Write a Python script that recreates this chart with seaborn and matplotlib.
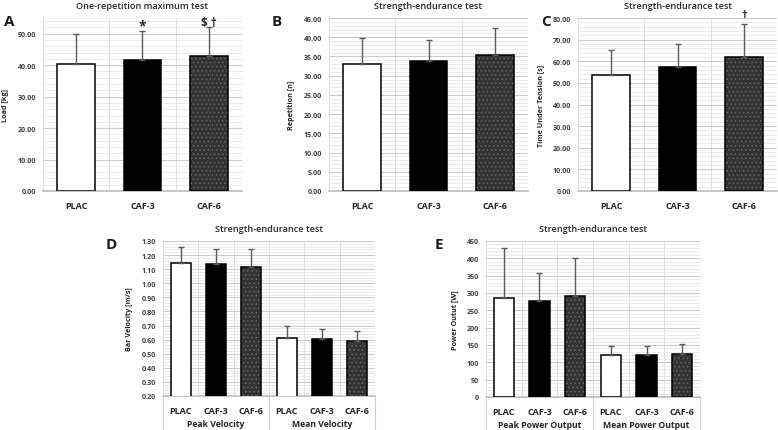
import numpy as np
import pandas as pd
import matplotlib.pyplot as plt
import seaborn as sns
import matplotlib.transforms as mtransforms
from matplotlib.patches import Rectangle
from matplotlib.ticker import MultipleLocator, FormatStrFormatter

# conditions and group labels
conditions = ['PLAC', 'CAF-3', 'CAF-6']
velocity_groups = ['Peak Velocity', 'Mean Velocity']
power_groups = ['Peak Power Output', 'Mean Power Output']

# A: one-repetition maximum (mean, SD)
rm_mean = [40.5, 41.8, 43.0]
rm_sd = [9.3, 9.0, 9.0]

# B: repetitions
rep_mean = [33.1, 33.9, 35.3]
rep_sd = [6.6, 5.4, 7.0]

# C: time under tension
tut_mean = [53.6, 57.2, 62.0]
tut_sd = [11.4, 10.8, 15.3]

# D: bar velocity
peak_vel_mean = [1.145, 1.137, 1.112]
peak_vel_sd = [0.110, 0.103, 0.133]
mean_vel_mean = [0.610, 0.602, 0.587]
mean_vel_sd = [0.085, 0.073, 0.073]

# E: power output
peak_pow_mean = [285, 278, 290]
peak_pow_sd = [145, 80, 111]
mean_pow_mean = [120, 122, 124]
mean_pow_sd = [26, 26, 29]

sns.set_theme(style='white')
plt.rcParams['font.family'] = ['Open Sans', 'DejaVu Sans']
plt.rcParams['font.weight'] = 'bold'
plt.rcParams['hatch.linewidth'] = 0.6

bar_colors = {'PLAC': 'white', 'CAF-3': 'black', 'CAF-6': '#333333'}
W, H = 778, 431
fig = plt.figure(figsize=(W / 100, H / 100), dpi=100)


def px_axes(l, t, r, b):
    return fig.add_axes([l / W, 1 - b / H, (r - l) / W, (b - t) / H])


def draw_panel(ax, labels, means, sds, ylim, major, minor, fmt, ylabel, title):
    df = pd.DataFrame({'key': [f'{i}' for i in range(len(labels))],
                       'cond': labels, 'mean': means, 'sd': sds})
    sns.barplot(data=df, x='key', y='mean', hue='key',
                palette=[bar_colors[c] for c in df['cond']],
                width=0.57, edgecolor='black', linewidth=1.1,
                legend=False, ax=ax, zorder=3)
    # dotted pattern for CAF-6
    for patch, cond in zip(ax.patches, df['cond']):
        if cond == 'CAF-6':
            patch.set_hatch('....')
            patch.set_edgecolor('#6a6a6a')
            patch.set_linewidth(0)
            ax.add_patch(Rectangle(patch.get_xy(), patch.get_width(), patch.get_height(),
                                   fill=False, edgecolor='black', lw=1.1, zorder=3.5))
    xs = np.arange(len(df))
    ax.errorbar(xs, df['mean'], yerr=[np.zeros(len(df)), df['sd']], fmt='none',
                ecolor='#595959', elinewidth=1, capsize=2.2, capthick=1, zorder=4)

    ax.set_ylim(*ylim)
    ax.set_xlim(-0.5, len(df) - 0.5)
    ax.yaxis.set_major_locator(MultipleLocator(major))
    ax.yaxis.set_minor_locator(MultipleLocator(minor))
    ax.yaxis.set_major_formatter(FormatStrFormatter(fmt))
    ax.grid(which='major', axis='y', color='#cccccc', lw=0.8)
    ax.grid(which='minor', axis='y', color='#e3e3e3', lw=0.5)
    for b in np.arange(-0.5, len(df), 1):
        ax.axvline(b, color='#dadada', lw=0.6, zorder=0)
    ax.set_axisbelow(True)
    for s in ['top', 'right', 'left']:
        ax.spines[s].set_visible(False)
    ax.spines['bottom'].set_color('#bfbfbf')

    ax.set_xticks(xs)
    ax.set_xticklabels(df['cond'], fontsize=6.5, fontweight='bold', color='#262626')
    ax.tick_params(axis='x', length=0, pad=7)
    ax.tick_params(axis='y', which='both', length=0, labelsize=5.1, pad=5, labelcolor='#404040')
    ax.set_xlabel('')
    ax.set_ylabel(ylabel, fontsize=5.2, fontweight='bold', color='#262626', labelpad=6)
    ax.set_title(title, fontsize=6.6, fontweight='semibold', color='#262626', pad=7)
    return ax


def add_groups(ax, groups):
    trans = mtransforms.blended_transform_factory(ax.transData, ax.transAxes)
    for i, g in enumerate(groups):
        ax.annotate(g, xy=(3 * i + 1, 0), xycoords=trans, xytext=(0, -20),
                    textcoords='offset points', ha='center', va='center',
                    fontsize=6.2, fontweight='bold', color='#262626')
    for b in [-0.5, 2.5, 5.5]:
        ax.plot([b, b], [0, -0.23], transform=trans, clip_on=False,
                color='#cfcfcf', lw=0.8)


ax_a = draw_panel(px_axes(43, 19, 242, 192), conditions, rm_mean, rm_sd,
                  (0, 55), 10, 2, '%.2f', 'Load [kg]', 'One-repetition maximum test')
ax_a.text(1, 52.6, '*', ha='center', va='center', fontsize=10, fontweight='bold')
ax_a.text(2, 53.5, '$ †', ha='center', va='center', fontsize=8.5, fontweight='bold')

ax_b = draw_panel(px_axes(329, 19, 528, 192), conditions, rep_mean, rep_sd,
                  (0, 45), 5, 1, '%.2f', 'Repetition [n]', 'Strength-endurance test')

ax_c = draw_panel(px_axes(578, 19, 777, 192), conditions, tut_mean, tut_sd,
                  (0, 80), 10, 2, '%.2f', 'Time Under Tension [s]', 'Strength-endurance test')
ax_c.text(2, 81.5, '†', ha='center', va='center', fontsize=8, fontweight='bold')

ax_d = draw_panel(px_axes(163, 242, 375, 397), conditions * 2,
                  peak_vel_mean + mean_vel_mean, peak_vel_sd + mean_vel_sd,
                  (0.2, 1.3), 0.1, 0.02, '%.2f', 'Bar Velocity [m/s]', 'Strength-endurance test')
add_groups(ax_d, velocity_groups)

ax_e = draw_panel(px_axes(486, 242, 700, 398), conditions * 2,
                  peak_pow_mean + mean_pow_mean, peak_pow_sd + mean_pow_sd,
                  (0, 450), 50, 10, '%d', 'Power Outut [W]', 'Strength-endurance test')
add_groups(ax_e, power_groups)

# panel letters
for letter, (x, y) in zip('ABCDE', [(4, 22), (272, 22), (541, 22), (106, 245), (435, 245)]):
    fig.text(x / W, 1 - y / H, letter, fontsize=11, fontweight='bold', va='center', color='#1a1a1a')

fig.savefig('out.png', dpi=100)
